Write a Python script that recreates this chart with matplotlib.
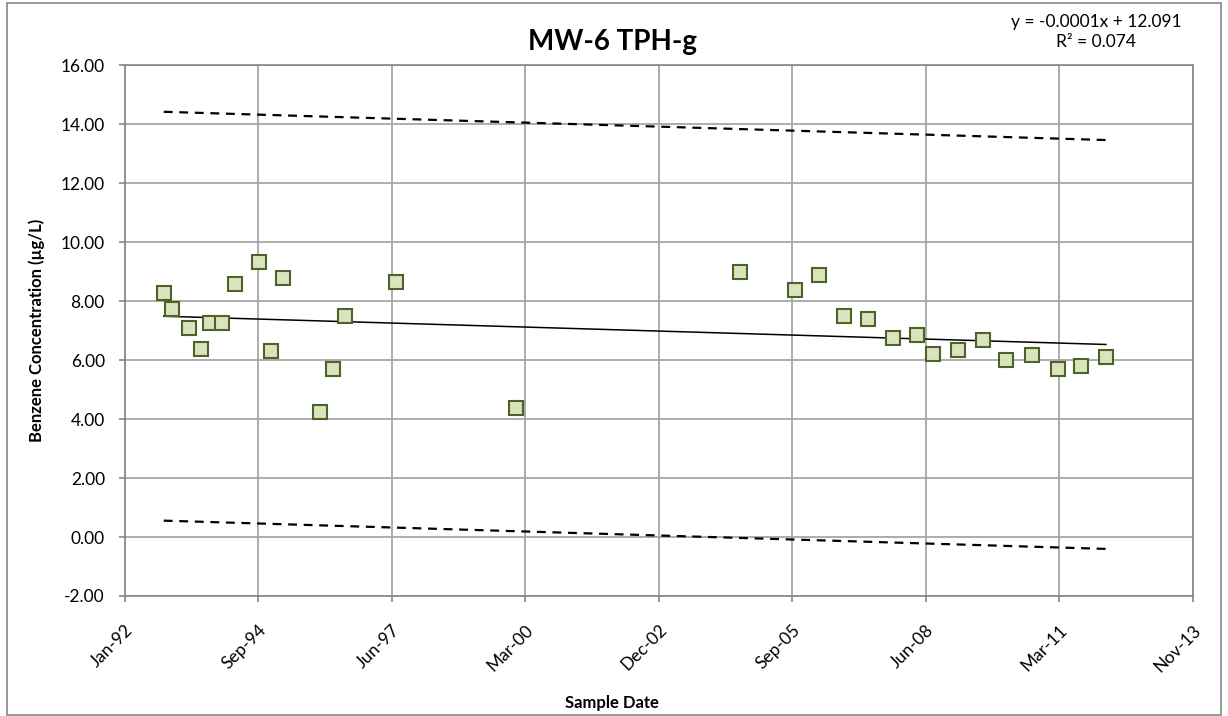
import numpy as np
import pandas as pd
import matplotlib
matplotlib.use("Agg")
import matplotlib.pyplot as plt
import matplotlib.dates as mdates
from matplotlib.patches import Rectangle

plt.rcParams['font.family'] = ['Lato', 'DejaVu Sans']

# sample data
sample_dates = ['1992-10-17', '1992-12-18', '1993-04-25', '1993-07-21', '1993-10-02',
                '1993-12-31', '1994-04-02', '1994-10-04', '1994-12-30', '1995-04-02',
                '1996-01-02', '1996-04-11', '1996-07-10', '1997-07-22', '2000-01-08',
                '2004-08-13', '2005-10-01', '2006-03-30', '2006-09-29', '2007-03-31',
                '2007-10-02', '2008-03-29', '2008-08-01', '2009-01-31', '2009-08-08',
                '2010-01-30', '2010-08-09', '2011-02-23', '2011-08-08', '2012-02-14']
concentration = [8.26, 7.74, 7.10, 6.37, 7.25, 7.25, 8.57, 9.31, 6.31, 8.79,
                 4.25, 5.70, 7.49, 8.64, 4.36, 8.97, 8.36, 8.88, 7.49, 7.38,
                 6.73, 6.85, 6.22, 6.34, 6.68, 6.01, 6.18, 5.68, 5.80, 6.11]

band_offset = 6.93          # half width of the dashed limit lines
trend_text = "y = -0.0001x + 12.091\nR\u00b2 = 0.074"
tick_start = '1992-01-01'
tick_step_days = 1000
n_ticks = 9

dates = pd.to_datetime(sample_dates)
x = mdates.date2num(dates)
y = np.array(concentration)

# linear trend fitted to the samples
slope, intercept = np.polyfit(x, y, 1)
xl = np.array([x.min(), x.max()])
trend = slope * xl + intercept

fig = plt.figure(figsize=(12.28, 7.16), dpi=100)
ax = fig.add_axes([0.1018, 0.1676, 0.9713 - 0.1018, 0.9092 - 0.1676])

grid_c = '#a6a6a6'
ax.grid(True, color=grid_c, linewidth=1.3)
ax.set_axisbelow(True)

ax.plot(xl, trend, color='black', linewidth=1.1, zorder=3)
ax.plot(xl, trend + band_offset, color='black', linestyle=(0, (4, 3)), linewidth=1.6, zorder=3)
ax.plot(xl, trend - band_offset, color='black', linestyle=(0, (4, 3)), linewidth=1.6, zorder=3)

ax.plot(x, y, linestyle='none', marker='s', markersize=10.5,
        markerfacecolor='#d7e4bd', markeredgecolor='#4f6228', markeredgewidth=1.5, zorder=4)

ticks = mdates.date2num(pd.Timestamp(tick_start) + pd.to_timedelta(np.arange(n_ticks) * tick_step_days, unit='D'))
ax.set_xlim(ticks[0], ticks[-1])
ax.set_xticks(ticks)
ax.xaxis.set_major_formatter(mdates.DateFormatter('%b-%y'))
ax.set_ylim(-2, 16)
ax.set_yticks(np.arange(-2, 16.1, 2))
ax.yaxis.set_major_formatter(matplotlib.ticker.FormatStrFormatter('%.2f'))

for s in ax.spines.values():
    s.set_color('#868686')
    s.set_linewidth(1.2)
ax.tick_params(axis='both', colors='#868686', labelcolor='black', labelsize=12.5, length=4.5, width=1.2)
ax.tick_params(axis='y', pad=10)
ax.tick_params(axis='x', pad=14)
plt.setp(ax.get_xticklabels(), rotation=45, ha='right', rotation_mode='anchor')

fig.text(612 / 1228, 1 - 703 / 716, 'Sample Date', ha='center', va='center',
         fontsize=12, fontweight='bold')
fig.text(37 / 1228, 1 - 330 / 716, 'Benzene Concentration (\u00b5g/L)', ha='center', va='center',
         rotation=90, fontsize=12, fontweight='bold')
fig.text(612 / 1228, 1 - 42 / 716, 'MW-6 TPH-g', ha='center', va='center',
         fontsize=20, fontweight='bold')

fig.text(1096 / 1228, 1 - 14 / 716, trend_text, ha='center', va='top', fontsize=12.5, linespacing=1.3)

fig.patches.append(Rectangle((0.006, 0.002), 0.988, 0.994, transform=fig.transFigure,
                             fill=False, edgecolor='#868686', linewidth=1.2))

fig.savefig('out.png', dpi=100)
